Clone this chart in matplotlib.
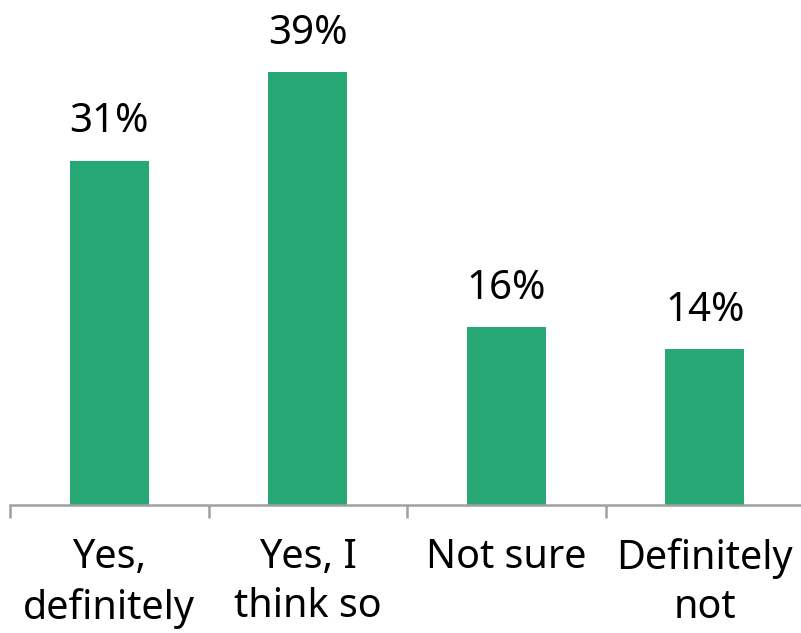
import matplotlib
matplotlib.use("Agg")
import matplotlib.pyplot as plt
from matplotlib.ticker import FixedLocator

categories = ["Yes,\ndefinitely", "Yes, I\nthink so", "Not sure", "Definitely\nnot"]
values = [31, 39, 16, 14]
value_labels = ["31%", "39%", "16%", "14%"]

bar_color = "#27A774"
axis_color = "#A0A0A0"

plt.rcParams["font.family"] = ["Noto Sans", "DejaVu Sans"]

fig = plt.figure(figsize=(8.01, 6.33), dpi=100)
ax = fig.add_axes([10 / 801, 128 / 633, 794 / 801, 500 / 633])

x = list(range(len(categories)))
bars = ax.bar(x, values, width=0.40, color=bar_color, zorder=2)

for rect, lab in zip(bars, value_labels):
    ax.annotate(lab, (rect.get_x() + rect.get_width() / 2, rect.get_height()),
                xytext=(0, 13), textcoords="offset points",
                ha="center", va="bottom", fontsize=29, color="#000000")

ax.set_xlim(-0.5, 3.5)
ax.set_ylim(0, 45)

for side in ("top", "right", "left"):
    ax.spines[side].set_visible(False)
ax.spines["bottom"].set_color(axis_color)
ax.spines["bottom"].set_linewidth(1.8)
ax.set_yticks([])

ax.set_xticks(x)
ax.set_xticklabels(categories, fontsize=28.5, linespacing=1.3)
ax.tick_params(axis="x", which="major", length=0, pad=24)
ax.xaxis.set_minor_locator(FixedLocator([-0.5, 0.5, 1.5, 2.5, 3.5]))
ax.tick_params(axis="x", which="minor", length=9.5, width=1.8, color=axis_color)

fig.savefig("out.png", dpi=100)
